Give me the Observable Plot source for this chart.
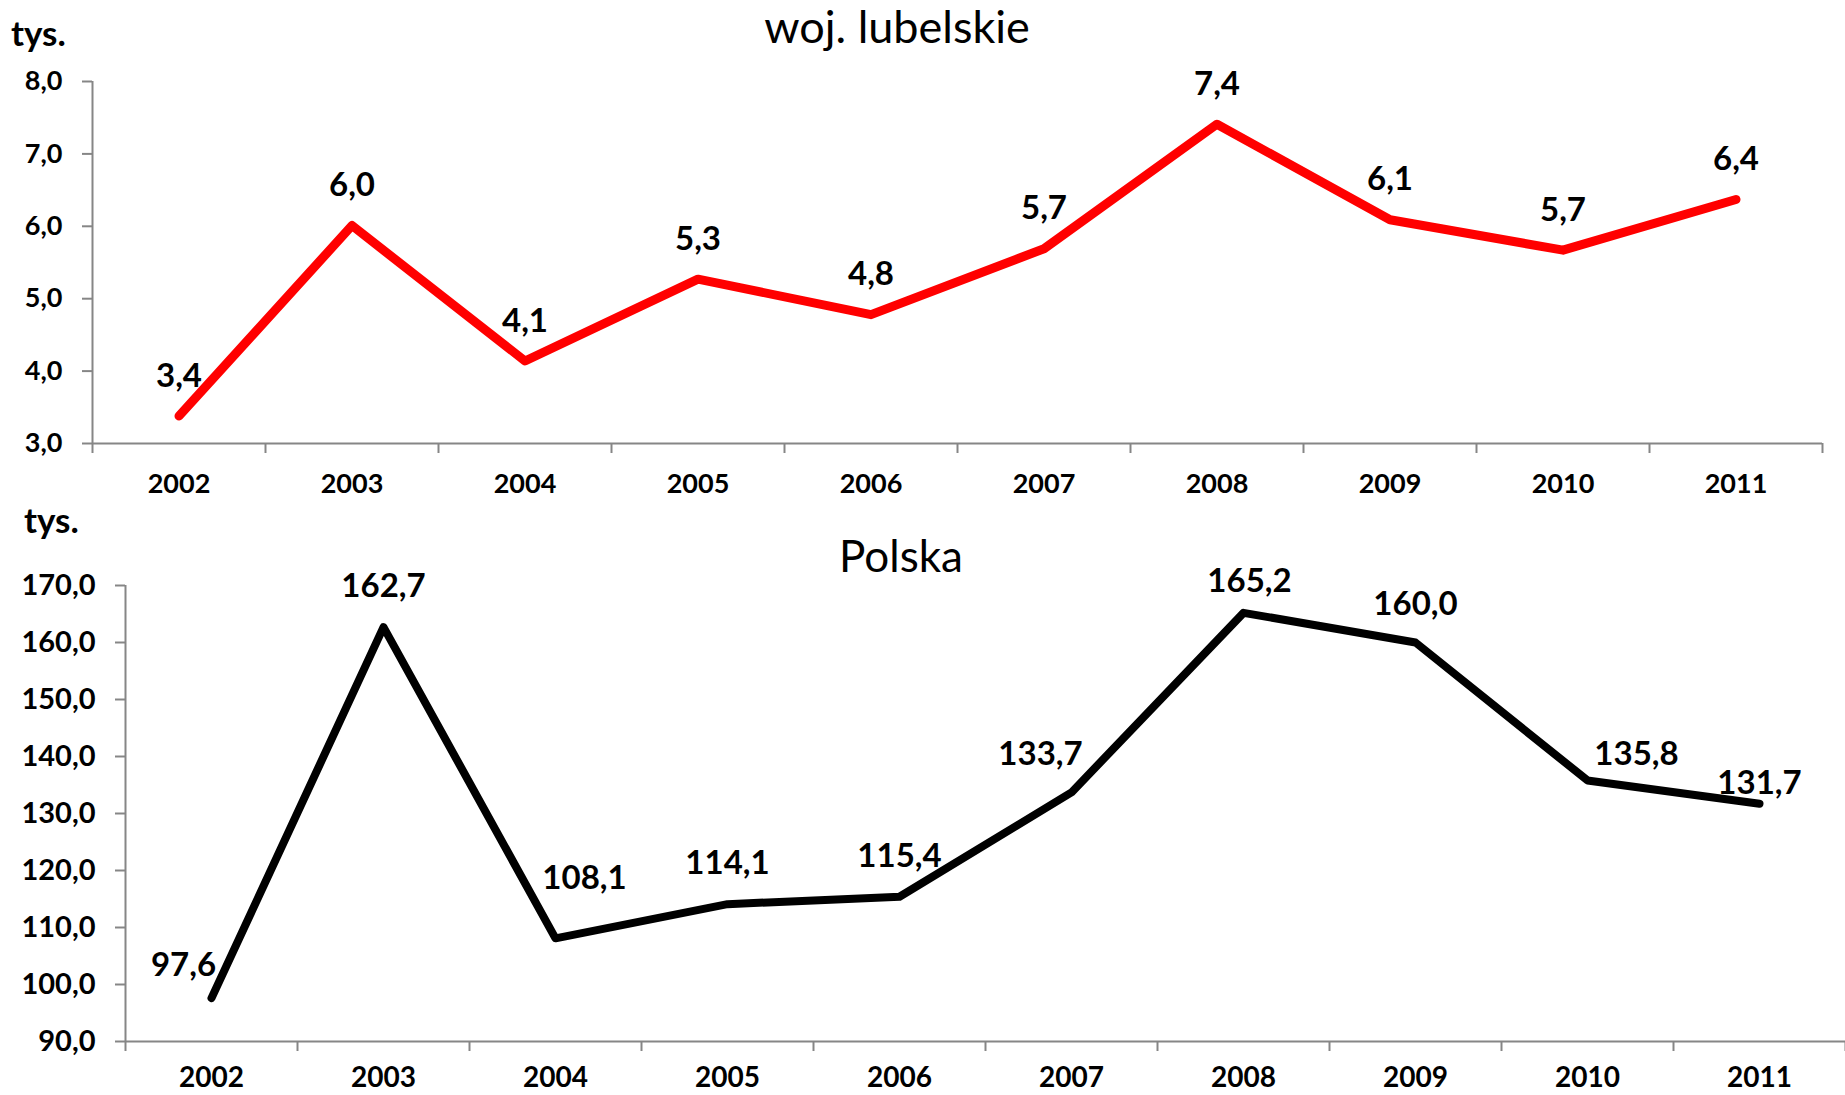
<!DOCTYPE html>
<html>
<head>
<meta charset="utf-8">
<script src="https://cdn.jsdelivr.net/npm/d3@7"></script>
<script src="https://cdn.jsdelivr.net/npm/@observablehq/plot@0.6"></script>
<style>
  body { margin: 0; background: #fff; }
  #wrap { position: relative; width: 1845px; height: 1095px; overflow: hidden; background: #fff; }
  #wrap > svg { position: absolute; left: 0; }
</style>
</head>
<body>
<div id="wrap"></div>
<script>
// ---- data ----
const years = [2002, 2003, 2004, 2005, 2006, 2007, 2008, 2009, 2010, 2011];
const lubelskie = [3.38, 6.01, 4.14, 5.27, 4.78, 5.69, 7.41, 6.09, 5.67, 6.37];
const polska = [97.6, 162.7, 108.1, 114.1, 115.4, 133.7, 165.2, 160.0, 135.8, 131.7];
const lubelskieTicks = [3, 4, 5, 6, 7, 8];
const polskaTicks = [90, 100, 110, 120, 130, 140, 150, 160, 170];
const titleTop = "woj. lubelskie";
const titleBottom = "Polska";
const unitLabel = "tys.";

// ---- layout / style (not data) ----
const W = 1845;
const FONT = "Lato, 'Open Sans', sans-serif";
const AXIS = "#868686";
const fmt = d => d.toFixed(1).replace(".", ",");
const boundaries = d3.range(years[0] - 0.5, years[years.length - 1] + 1, 1);
// label offsets for the Polska series (Excel-like placement)
const polskaOffsets = {2002: [-28, -33], 2003: [0, -41], 2004: [29, -60], 2005: [0, -41], 2006: [0, -40],
                       2007: [-31, -38], 2008: [6, -31], 2009: [0, -38], 2010: [49, -26], 2011: [0, -20]};

function chart({values, ticks, color, lineWidth, height, marginLeft, marginRight, marginTop, marginBottom,
                yFont, xFont, xPad, labelFont, offset}) {
  const idx = d3.range(values.length);
  const lo = ticks[0], hi = ticks[ticks.length - 1];
  return Plot.plot({
    width: W, height, marginLeft, marginRight, marginTop, marginBottom,
    style: {fontFamily: FONT, background: "transparent", overflow: "visible"},
    x: {type: "linear", domain: [boundaries[0], boundaries[boundaries.length - 1]]},
    y: {domain: [lo, hi]},
    marks: [
      Plot.ruleY([lo], {stroke: AXIS, strokeWidth: 2}),
      Plot.ruleX([boundaries[0]], {stroke: AXIS, strokeWidth: 2}),
      Plot.axisY({ticks, tickSize: 10, tickPadding: 20, tickFormat: fmt, stroke: AXIS, strokeWidth: 2,
                  fill: "#000", fontSize: yFont, fontWeight: "bold", label: null}),
      Plot.axisX({ticks: boundaries, tickSize: 10, tickFormat: () => "", stroke: AXIS, strokeWidth: 2, label: null}),
      Plot.axisX({ticks: years, tickSize: 0, tickPadding: xPad, tickFormat: d => String(d),
                  fill: "#000", fontSize: xFont, fontWeight: "bold", label: null}),
      Plot.line(idx, {x: i => years[i], y: i => values[i], stroke: color, strokeWidth: lineWidth,
                      strokeLinecap: "round", strokeLinejoin: "round"}),
      ...idx.map(i => Plot.text([i], {x: j => years[j], y: j => values[j], text: j => fmt(values[j]),
                      dx: offset(years[i])[0], dy: offset(years[i])[1],
                      fill: "#000", fontSize: labelFont, fontWeight: "bold"}))
    ]
  });
}

const wrap = document.getElementById("wrap");

const top1 = chart({
  values: lubelskie, ticks: lubelskieTicks, color: "#FF0000", lineWidth: 9,
  height: 500, marginLeft: 92, marginRight: 23, marginTop: 81, marginBottom: 57,
  yFont: 27, xFont: 27, xPad: 30, labelFont: 33, offset: () => [0, -40]
});
top1.style.top = "0px";
wrap.appendChild(top1);

const bottom1 = chart({
  values: polska, ticks: polskaTicks, color: "#000000", lineWidth: 8,
  height: 595, marginLeft: 125, marginRight: 0, marginTop: 85, marginBottom: 54,
  yFont: 29, xFont: 28, xPad: 26, labelFont: 33, offset: y => polskaOffsets[y]
});
bottom1.style.top = "500px";
wrap.appendChild(bottom1);

// titles and unit labels
const ov = d3.select(wrap).append("svg")
  .attr("width", W).attr("height", 1095)
  .style("top", "0px").style("pointer-events", "none")
  .style("font-family", FONT);
ov.append("text").attr("x", 897).attr("y", 43).attr("text-anchor", "middle")
  .attr("font-size", 45).attr("fill", "#000").text(titleTop);
ov.append("text").attr("x", 901).attr("y", 572).attr("text-anchor", "middle")
  .attr("font-size", 44).attr("fill", "#000").text(titleBottom);
ov.append("text").attr("x", 11).attr("y", 46).attr("font-size", 35).attr("font-weight", "bold")
  .attr("fill", "#000").text(unitLabel);
ov.append("text").attr("x", 24).attr("y", 533).attr("font-size", 35).attr("font-weight", "bold")
  .attr("fill", "#000").text(unitLabel);
</script>
</body>
</html>
